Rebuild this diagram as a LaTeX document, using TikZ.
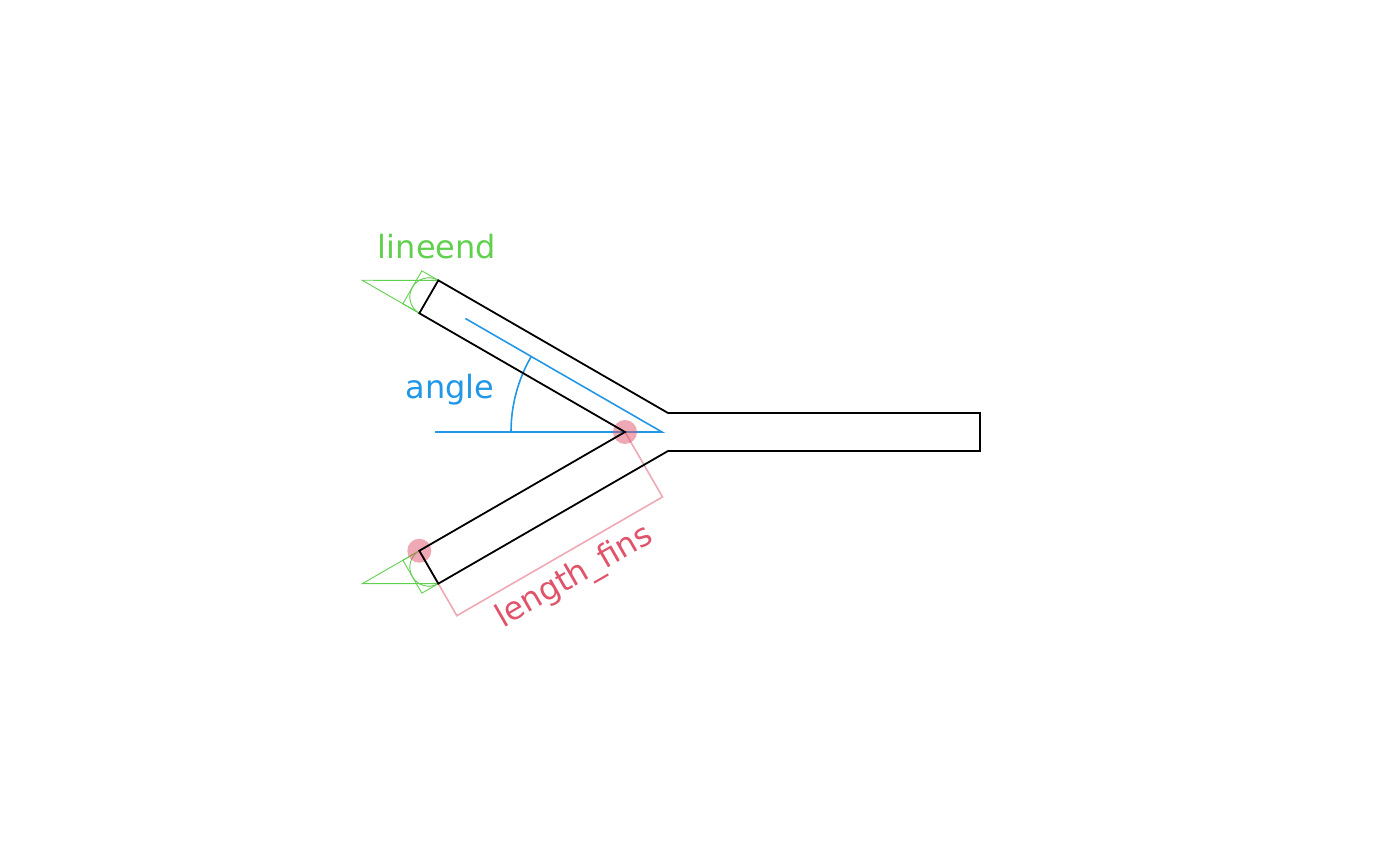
\documentclass[tikz,border=0pt]{standalone}
\usepackage{fontspec}
\setmainfont{DejaVu Sans}
\usetikzlibrary{calc}
\definecolor{finred}{HTML}{DF536B}
\definecolor{fingreen}{HTML}{61D04F}
\definecolor{finblue}{HTML}{2297E6}

\begin{document}
\begin{tikzpicture}[x=1pt, y=1pt,
    outline/.style={draw=black, line width=1.8pt, line join=miter},
    endcap/.style={draw=fingreen, line width=0.9pt},
    anglemark/.style={draw=finblue, line width=1.6pt},
    finmark/.style={draw=finred!50, line width=1.6pt},
    hub/.style={circle, fill=finred, fill opacity=0.5, inner sep=0pt, minimum size=24pt},
    notetext/.style={font=\fontsize{32}{38}\selectfont, inner sep=0pt, anchor=base}]
        \path[use as bounding box] (0,0) rectangle (1400,865);

        \coordinate (V) at (625,433);
        \coordinate (Ui) at ($(V)+(150:237.5)$);
        \coordinate (Uo) at ($(Ui)+(60:38)$);
        \coordinate (Li) at ($(V)+(210:237.5)$);
        \coordinate (Lo) at ($(Li)+(-60:38)$);
        \coordinate (Sut) at (668,452);
        \coordinate (Slb) at (668,414);
        \coordinate (Ert) at (980,452);
        \coordinate (Erb) at (980,414);

        % line ends
        \coordinate (Ua) at ($(Ui)+(150:65.9)$);
        \draw[endcap] (Uo) -- (Ua) -- (Ui);
        \draw[endcap] (Uo) -- ($(Uo)+(150:19)$) -- ($(Ui)+(150:19)$) -- (Ui);
        \draw[endcap] (Uo) arc[start angle=60, end angle=240, radius=19];
        \coordinate (La) at ($(Li)+(210:65.9)$);
        \draw[endcap] (Lo) -- (La) -- (Li);
        \draw[endcap] (Lo) -- ($(Lo)+(210:19)$) -- ($(Li)+(210:19)$) -- (Li);
        \draw[endcap] (Lo) arc[start angle=-60, end angle=-240, radius=19];

        % angle
        \coordinate (B) at (662,433);
        \coordinate (Bl) at (435,433);
        \draw[anglemark] (Bl) -- (B) -- ++(150:227);
        \draw[anglemark] ($(B)+(180:151)$) arc[start angle=180, end angle=150, radius=151];

        % fin length
        \draw[finmark] (V) -- ($(V)+(-60:75)$) -- ($(Li)+(-60:75)$) -- (Li);
        \node[hub] (hubV) at (V) {};
        \node[hub] (hubL) at (Li) {};

        \draw[outline] (Erb) -- (Slb) -- (Lo) -- (Li) -- (V) -- (Ui) -- (Uo) -- (Sut) -- (Ert) -- cycle;

        \node[notetext, text=fingreen] (lineend) at (437,606.7) {lineend};
        \node[notetext, text=finblue] (angle) at (450,466.7) {angle};
        \node[notetext, text=finred, rotate=30] (lengthfins) at (579,280.5) {length\_fins};
      \end{tikzpicture}
\end{document}
